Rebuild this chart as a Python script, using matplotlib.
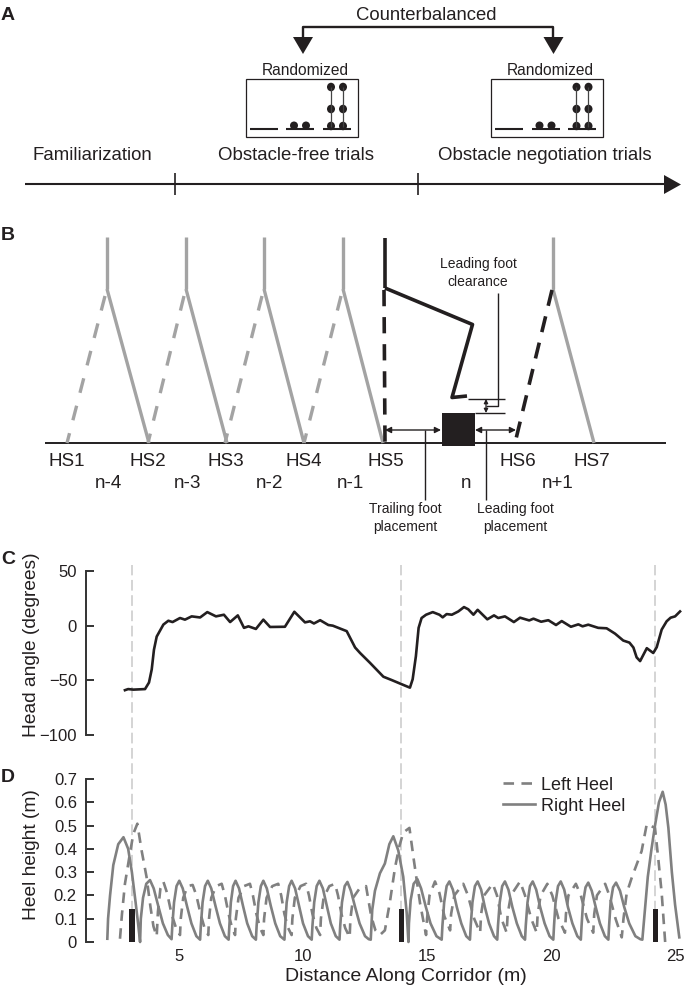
import matplotlib
matplotlib.use('Agg')
import matplotlib.pyplot as plt
from matplotlib.patches import Ellipse, Polygon, Rectangle

# data
head_x = [2.82, 2.95, 3.16, 3.63, 3.79, 3.9, 3.99, 4.1, 4.37, 4.57, 4.74, 5.04, 5.24, 5.51, 5.85, 6.14, 6.49, 6.81,
          7.06, 7.37, 7.62, 7.8, 8.1, 8.4, 8.67, 9.27, 9.65, 10.08, 10.28, 10.44, 10.69, 11.02, 11.2, 11.49, 11.76,
          12.1, 12.3, 12.7, 13.24, 13.57, 13.98, 14.31, 14.42, 14.55, 14.66, 14.78, 14.96, 15.23, 15.5, 15.63, 15.79,
          16.0, 16.26, 16.49, 16.66, 16.87, 17.04, 17.43, 17.7, 17.87, 18.14, 18.5, 18.75, 19.12, 19.29, 19.6, 19.89,
          20.2, 20.43, 20.8, 21.1, 21.27, 21.5, 21.9, 22.24, 22.58, 22.91, 23.16, 23.32, 23.45, 23.59, 23.86, 24.12,
          24.26, 24.46, 24.66, 24.82, 25.0, 25.2]
head_angle = [-59, -58, -58.5, -58, -52, -40, -22, -10, 1, 4.5, 3.3, 7, 5.5, 8.5, 7.5, 12.4, 8.5, 10,
              3.3, 9.4, -2, -0.6, -3, 5.5, -1.2, -1, 12.7, 3, 4, 2, 5, 0.6, 0, -2.6, -5,
              -20, -25, -34, -46.7, -49.7, -53.6, -56.7, -49, -28, -2, 7, 10, 12.4, 10, 7.6, 10.6,
              10, 13, 17, 15, 10, 14.5, 5.8, 9.4, 7, 8.5, 3.3, 7.3, 4.8, 6.4, 3.6, 5,
              0.6, 4.2, -1, 1.2, -0.6, 0.9, -2, -2.4, -7.3, -13.6, -15.5, -20, -29, -32.4, -20.6, -25,
              -19.7, -3.6, 4, 7.3, 8.5, 13]

right_x = [2.11, 2.14, 2.22, 2.35, 2.55, 2.76, 2.95, 3.1, 3.25, 3.36, 3.43,
           3.46, 3.55, 3.68, 3.83, 3.98, 4.15, 4.35, 4.55, 4.7,
           4.73, 4.8, 4.9, 5.01, 5.15, 5.32, 5.5, 5.7, 5.85,
           5.88, 5.95, 6.05, 6.16, 6.3, 6.47, 6.65, 6.85, 7.0,
           7.03, 7.09, 7.18, 7.28, 7.42, 7.58, 7.75, 7.95, 8.1,
           8.13, 8.2, 8.3, 8.4, 8.54, 8.7, 8.88, 9.08, 9.25,
           9.28, 9.34, 9.44, 9.54, 9.68, 9.84, 10.0, 10.2, 10.35,
           10.38, 10.45, 10.55, 10.66, 10.8, 10.96, 11.12, 11.32, 11.47,
           11.5, 11.57, 11.68, 11.79, 11.93, 12.1, 12.28, 12.5, 12.65, 12.73,
           12.79, 12.9, 13.1, 13.3, 13.48, 13.64, 13.84, 14.04, 14.18, 14.25,
           14.27, 14.34, 14.46, 14.61, 14.76, 14.94, 15.14, 15.38, 15.59,
           15.62, 15.69, 15.79, 15.9, 16.04, 16.2, 16.38, 16.58, 16.73,
           16.76, 16.83, 16.93, 17.04, 17.18, 17.33, 17.5, 17.7, 17.83,
           17.86, 17.93, 18.03, 18.14, 18.28, 18.44, 18.62, 18.82, 18.95,
           18.98, 19.05, 19.15, 19.26, 19.4, 19.56, 19.74, 19.94, 20.09,
           20.12, 20.18, 20.28, 20.39, 20.53, 20.68, 20.86, 21.06, 21.2,
           21.23, 21.29, 21.39, 21.5, 21.64, 21.8, 21.97, 22.17, 22.31,
           22.34, 22.4, 22.5, 22.62, 22.78, 22.95, 23.15, 23.4, 23.6, 23.68,
           23.76, 23.9, 24.05, 24.19, 24.35, 24.5, 24.62, 24.73, 24.87, 25.0, 25.17]
right_h = [0.014, 0.10, 0.20, 0.33, 0.42, 0.45, 0.40, 0.30, 0.17, 0.07, 0,
           0.10, 0.19, 0.25, 0.266, 0.23, 0.16, 0.08, 0.03, 0.012,
           0.07, 0.17, 0.24, 0.263, 0.23, 0.155, 0.08, 0.025, 0.01,
           0.07, 0.17, 0.24, 0.263, 0.23, 0.155, 0.08, 0.025, 0.01,
           0.07, 0.17, 0.24, 0.263, 0.23, 0.155, 0.08, 0.025, 0.01,
           0.07, 0.17, 0.24, 0.263, 0.23, 0.155, 0.08, 0.025, 0.01,
           0.07, 0.17, 0.24, 0.263, 0.23, 0.155, 0.08, 0.025, 0.01,
           0.07, 0.17, 0.24, 0.263, 0.23, 0.155, 0.08, 0.025, 0.01,
           0.07, 0.17, 0.24, 0.258, 0.22, 0.15, 0.08, 0.025, 0.012, 0.01,
           0.138, 0.22, 0.295, 0.337, 0.42, 0.454, 0.393, 0.28, 0.124, 0,
           0.08, 0.18, 0.25, 0.27, 0.23, 0.155, 0.08, 0.025, 0.01,
           0.07, 0.17, 0.24, 0.26, 0.225, 0.15, 0.08, 0.025, 0.01,
           0.07, 0.17, 0.24, 0.26, 0.225, 0.15, 0.08, 0.025, 0.01,
           0.07, 0.17, 0.24, 0.26, 0.225, 0.15, 0.08, 0.025, 0.01,
           0.07, 0.17, 0.24, 0.26, 0.225, 0.15, 0.08, 0.025, 0.01,
           0.07, 0.17, 0.24, 0.26, 0.225, 0.15, 0.08, 0.025, 0.01,
           0.07, 0.17, 0.235, 0.255, 0.22, 0.15, 0.08, 0.025, 0.01,
           0.07, 0.17, 0.235, 0.255, 0.22, 0.15, 0.08, 0.025, 0.012, 0.01,
           0.11, 0.28, 0.40, 0.50, 0.60, 0.645, 0.59, 0.49, 0.30, 0.16, 0.02]

left_x = [2.62, 2.7, 2.82, 3.02, 3.16, 3.32, 3.49, 3.69, 3.85, 3.97, 4.1,
          4.15, 4.25, 4.37, 4.52, 4.7, 4.88, 5.04,
          5.07, 5.17, 5.35, 5.55, 5.7, 5.87, 6.03, 6.18,
          6.21, 6.3, 6.5, 6.72, 6.85, 7.0, 7.14, 7.26,
          7.29, 7.4, 7.62, 7.86, 7.98, 8.12, 8.27, 8.4,
          8.43, 8.53, 8.76, 9.0, 9.12, 9.25, 9.4, 9.54,
          9.57, 9.67, 9.9, 10.12, 10.24, 10.38, 10.54, 10.69,
          10.72, 10.83, 11.06, 11.29, 11.41, 11.55, 11.7, 11.88,
          11.91, 12.02, 12.28, 12.54, 12.62, 12.75, 12.92, 13.1,
          13.3, 13.5, 13.71, 13.88, 14.04, 14.29, 14.47, 14.72, 14.96,
          15.0, 15.1, 15.32, 15.5, 15.7, 15.93,
          15.97, 16.1, 16.46, 16.65, 16.9, 17.14,
          17.18, 17.3, 17.65, 17.82, 18.0, 18.21,
          18.25, 18.38, 18.75, 18.95, 19.2, 19.42,
          19.46, 19.58, 19.85, 20.05, 20.3, 20.56,
          20.6, 20.7, 21.0, 21.2, 21.45, 21.7,
          21.74, 21.85, 22.18, 22.35, 22.6, 22.85,
          22.92, 23.05, 23.25, 23.65, 23.86, 24.19, 24.33, 24.46, 24.6]
left_h = [0.014, 0.12, 0.25, 0.38, 0.465, 0.508, 0.394, 0.28, 0.15, 0.067, 0.024,
          0.13, 0.23, 0.259, 0.21, 0.12, 0.06, 0.03,
          0.10, 0.19, 0.24, 0.245, 0.20, 0.12, 0.06, 0.03,
          0.10, 0.19, 0.24, 0.25, 0.20, 0.12, 0.06, 0.03,
          0.10, 0.19, 0.24, 0.25, 0.20, 0.12, 0.06, 0.03,
          0.10, 0.19, 0.24, 0.25, 0.20, 0.12, 0.06, 0.03,
          0.10, 0.19, 0.24, 0.25, 0.20, 0.12, 0.06, 0.03,
          0.10, 0.19, 0.24, 0.25, 0.20, 0.12, 0.06, 0.02,
          0.10, 0.19, 0.23, 0.24, 0.19, 0.11, 0.05, 0.03,
          0.05, 0.17, 0.32, 0.41, 0.47, 0.49, 0.35, 0.165, 0.03,
          0.10, 0.20, 0.26, 0.21, 0.11, 0.05,
          0.12, 0.20, 0.25, 0.20, 0.10, 0.04,
          0.12, 0.20, 0.25, 0.20, 0.10, 0.04,
          0.12, 0.20, 0.26, 0.20, 0.10, 0.04,
          0.12, 0.20, 0.25, 0.20, 0.10, 0.04,
          0.12, 0.20, 0.25, 0.20, 0.10, 0.04,
          0.12, 0.20, 0.25, 0.20, 0.10, 0.02,
          0.10, 0.21, 0.275, 0.39, 0.507, 0.49, 0.35, 0.21, 0]

obstacle_x = [3.1, 13.97, 24.2]
obstacle_h = [0.14, 0.14, 0.14]

W, H = 685, 990
INK = '#231f20'
GREY = '#a3a3a3'
HEEL = '#808080'

plt.rcParams['font.family'] = ['Liberation Sans', 'DejaVu Sans']
plt.rcParams['text.color'] = INK

fig = plt.figure(figsize=(W / 100, H / 100), dpi=100)

# overlay in pixel coordinates for the two schematic panels
ov = fig.add_axes([0, 0, 1, 1])
ov.set_xlim(0, W)
ov.set_ylim(H, 0)
ov.axis('off')


def line(xs, ys, c=INK, lw=1.0, **kw):
    ov.plot(xs, ys, color=c, lw=lw, solid_capstyle='butt', dash_capstyle='butt', **kw)


def tri(pts, c=INK):
    ov.add_patch(Polygon(pts, closed=True, fc=c, ec='none'))


def double_arrow(x0, x1, y):
    ov.annotate('', xy=(x1, y), xytext=(x0, y),
                arrowprops=dict(arrowstyle='<|-|>', color=INK, lw=1.0, mutation_scale=9, shrinkA=0, shrinkB=0))


for letter, y in [('A', 15), ('B', 235), ('C', 559), ('D', 777)]:
    ov.text(1, y, letter, fontsize=14, fontweight='bold', va='center', ha='left')

# panel A
ov.text(426, 15, 'Counterbalanced', fontsize=13.3, ha='center', va='center')
line([303, 303, 553.5, 553.5], [38, 26.7, 26.7, 38], lw=1.7)
for ax_x in [303, 553.5]:
    tri([(ax_x - 10, 37), (ax_x + 10, 37), (ax_x, 54)])
for x0 in [246, 491.5]:
    ov.add_patch(Rectangle((x0, 79), 112, 58, fc='none', ec=INK, lw=0.9))
    ov.text(x0 + 59, 70.5, 'Randomized', fontsize=11.2, ha='center', va='center')
    for a, b in [(4, 32), (40.5, 68.5), (77, 105)]:
        line([x0 + a, x0 + b], [129, 129], lw=1.5)
    for dx in [48, 60]:
        ov.add_patch(Ellipse((x0 + dx, 125.5), 8, 8, fc=INK, ec='none'))
    for dx in [85, 97]:
        line([x0 + dx, x0 + dx], [87, 127], c='#444444', lw=0.9)
        for y in [87, 109, 126]:
            ov.add_patch(Ellipse((x0 + dx, y), 8, 8.5, fc=INK, ec='none'))
ov.text(92, 155, 'Familiarization', fontsize=13.4, ha='center', va='center')
ov.text(296, 155, 'Obstacle-free trials', fontsize=13.4, ha='center', va='center')
ov.text(545, 155, 'Obstacle negotiation trials', fontsize=13.4, ha='center', va='center')
line([25, 665], [184, 184], lw=1.5)
line([175, 175], [173, 195], lw=1.2)
line([418, 418], [173, 195], lw=1.2)
tri([(664, 175), (664, 194), (681, 184.5)])

# panel B
line([45, 666], [443, 443], lw=1.4)
gray_hips = [107, 186, 264, 343]
gray_feet = [149, 227, 304, 383]
gray_back = [67, 148, 225, 304]
for hip, foot, back in zip(gray_hips, gray_feet, gray_back):
    line([hip, hip], [237, 289], c=GREY, lw=2.4)
    line([hip, foot], [289, 443], c=GREY, lw=2.4)
    line([hip - 2, back], [296, 443], c=GREY, lw=2.4, linestyle=(0, (4.5, 4)))
line([553, 553], [237, 289], c=GREY, lw=2.4)
line([553, 594], [289, 443], c=GREY, lw=2.4)

line([385, 385], [238, 288], lw=2.6)
line([385, 472.5, 452, 467], [288, 324.5, 397.5, 396], lw=2.6)
line([384, 385], [290, 443], lw=2.6, linestyle=(0, (4.5, 3)))
line([552, 515], [290, 443], lw=2.6, linestyle=(0, (4.5, 3)))

ov.add_patch(Rectangle((442, 412.5), 33, 33, fc=INK, ec='none', zorder=3))
line([468, 505], [399, 399], lw=1.0)
line([475, 505], [413, 413], lw=1.0)
ov.annotate('', xy=(486, 399), xytext=(486, 413),
            arrowprops=dict(arrowstyle='<|-|>', color=INK, lw=0.9, mutation_scale=6, shrinkA=0, shrinkB=0))
line([486, 498, 498], [405.7, 405.7, 293], lw=1.0)
double_arrow(385, 441, 430)
double_arrow(475, 516, 430)
line([425, 425], [430, 500], lw=1.0)
line([486, 486], [430, 500], lw=1.0)

for x, s in zip([67, 148, 226, 304, 386, 518, 592], ['HS1', 'HS2', 'HS3', 'HS4', 'HS5', 'HS6', 'HS7']):
    ov.text(x, 462, s, fontsize=13.6, ha='center', va='center')
for x, s in zip([108, 188, 270, 350, 466, 558], ['n-4', 'n-3', 'n-2', 'n-1', 'n', 'n+1']):
    ov.text(x, 484, s, fontsize=13.6, ha='center', va='center')
ov.text(478, 264, 'Leading foot', fontsize=10, ha='center', va='center')
ov.text(478, 282, 'clearance', fontsize=10, ha='center', va='center')
ov.text(405, 509, 'Trailing foot', fontsize=10, ha='center', va='center')
ov.text(405, 527, 'placement', fontsize=10, ha='center', va='center')
ov.text(515, 509, 'Leading foot', fontsize=10, ha='center', va='center')
ov.text(515, 527, 'placement', fontsize=10, ha='center', va='center')


def px_axes(ytop, ybot):
    return fig.add_axes([86 / W, 1 - ybot / H, (W - 86) / W, (ybot - ytop) / H])


xlim = (1.25, 25.4)

# panel D
ax_d = px_axes(779, 942)
ax_d.patch.set_visible(False)
for x in obstacle_x:
    ax_d.plot([x, x], [0, 1.62], color='#c9c9c9', lw=1.1, linestyle=(0, (7, 3)), clip_on=False, zorder=1)
ax_d.plot(left_x, left_h, color=HEEL, lw=1.9, linestyle=(0, (4, 2.8)), label='Left Heel', clip_on=False, zorder=2)
ax_d.plot(right_x, right_h, color=HEEL, lw=1.9, label='Right Heel', clip_on=False, zorder=2)
ax_d.bar(obstacle_x, obstacle_h, width=0.22, color=INK, zorder=3)
ax_d.set_xlim(xlim)
ax_d.set_ylim(0, 0.7)
ax_d.set_yticks([0, 0.1, 0.2, 0.3, 0.4, 0.5, 0.6, 0.7])
ax_d.set_yticklabels(['0', '0.1', '0.2', '0.3', '0.4', '0.5', '0.6', '0.7'])
ax_d.set_xticks([5, 10, 15, 20, 25])
ax_d.tick_params(axis='x', length=0, pad=5, labelsize=12, labelcolor=INK)
ax_d.set_xlabel('Distance Along Corridor (m)', fontsize=14, color=INK)
ax_d.xaxis.set_label_coords((406 - 86) / 599, -26 / 163)
ax_d.set_ylabel('Heel height (m)', fontsize=13.8, color=INK)
ax_d.yaxis.set_label_coords((40 - 86) / 599, 0.534)
ax_d.legend(loc='upper left', bbox_to_anchor=((494 - 86) / 599, 1.07), frameon=False, fontsize=13,
            handlelength=1.75, handletextpad=0.35, labelspacing=0.22, borderpad=0, labelcolor=INK)

# panel C
ax_c = px_axes(571, 735)
ax_c.patch.set_visible(False)
ax_c.plot(head_x, head_angle, color=INK, lw=1.9, zorder=3, clip_on=False)
ax_c.set_xlim(xlim)
ax_c.set_ylim(-100, 50)
ax_c.set_yticks([-100, -50, 0, 50])
ax_c.set_xticks([])
ax_c.set_ylabel('Head angle (degrees)', fontsize=13.8, color=INK)
ax_c.yaxis.set_label_coords((40 - 86) / 599, 0.55)

for ax in [ax_c, ax_d]:
    for side in ['top', 'right', 'bottom']:
        ax.spines[side].set_visible(False)
    ax.spines['left'].set_linewidth(1.4)
    ax.spines['left'].set_color('#333333')
    ax.tick_params(axis='y', direction='in', length=6, width=1.4, color='#333333', pad=6.5,
                   labelsize=12, labelcolor=INK)

fig.savefig('out.png', dpi=100)
